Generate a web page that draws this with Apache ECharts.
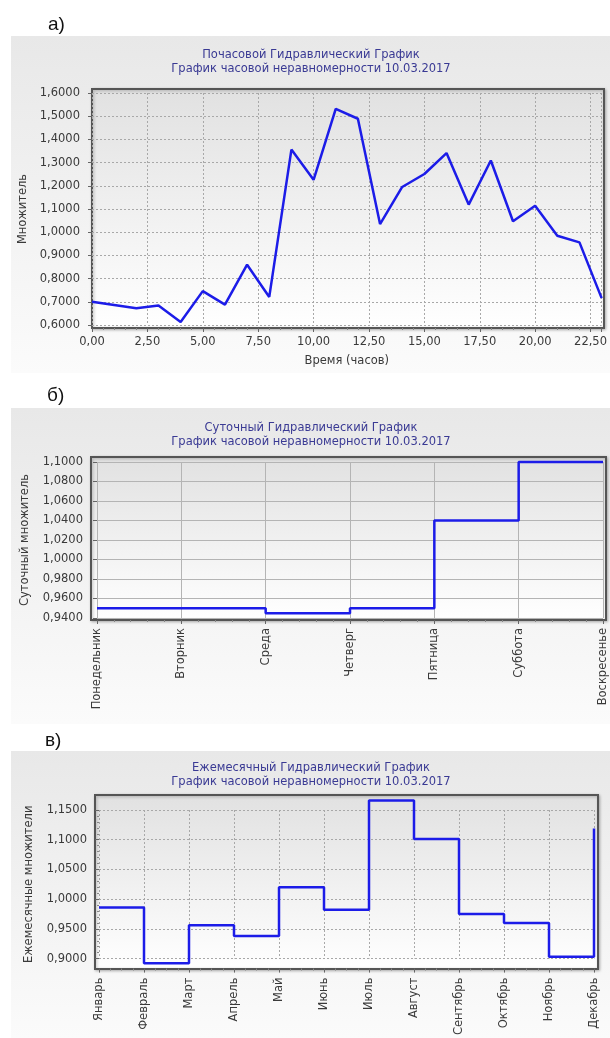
<!DOCTYPE html>
<html><head><meta charset="utf-8">
<script src="https://cdn.jsdelivr.net/npm/echarts@6/dist/echarts.min.js"></script>
<style>
html,body{margin:0;padding:0;background:#fff;width:610px;height:1038px;overflow:hidden}
.panel{position:absolute;left:11px;width:599px;background:linear-gradient(#e8e8e8,#fbfbfb)}
#c{position:absolute;left:0;top:0;width:610px;height:1038px;z-index:1}
</style></head>
<body>
<div class="panel" style="top:36px;height:337px"></div>
<div class="panel" style="top:408px;height:316px"></div>
<div class="panel" style="top:751px;height:287px"></div>
<div id="c"></div>
<script>
const hours = [0,1,2,3,4,5,6,7,8,9,10,11,12,13,14,15,16,17,18,19,20,21,22,23];
const hourly = [0.700,0.686,0.672,0.684,0.613,0.746,0.688,0.860,0.721,1.356,1.226,1.532,1.489,1.035,1.195,1.251,1.341,1.119,1.309,1.047,1.114,0.985,0.956,0.716];
const days = ['Понедельник','Вторник','Среда','Четверг','Пятница','Суббота','Воскресенье'];
const daily = [0.950,0.950,0.945,0.950,1.040,1.100,1.100];
const months = ['Январь','Февраль','Март','Апрель','Май','Июнь','Июль','Август','Сентябрь','Октябрь','Ноябрь','Декабрь'];
const monthly = [0.986,0.892,0.956,0.938,1.020,0.982,1.166,1.101,0.975,0.960,0.903,1.119];
const titles = [
  'Почасовой Гидравлический График\nГрафик часовой неравномерности 10.03.2017',
  'Суточный Гидравлический График\nГрафик часовой неравномерности 10.03.2017',
  'Ежемесячный Гидравлический График\nГрафик часовой неравномерности 10.03.2017'
];
const panelLabels = ['а)','б)','в)'];
const yNames = ['Множитель','Суточный множитель','Ежемесячные множители'];
const xName1 = 'Время (часов)';

const FONT = 'DejaVu Sans';
const LBL = {fontFamily: FONT, fontSize: 11.5, color: '#3a3a3a'};
const LINE = '#1c1ce8';
const dotted = {show: true, lineStyle: {color: '#a8a8a8', type: [2, 2], width: 1}};
const solidSplit = {show: true, lineStyle: {color: '#b4b4b4', width: 1}};
const plotBg = {type: 'linear', x: 0, y: 0, x2: 0, y2: 1, colorStops: [{offset: 0, color: '#e1e1e1'}, {offset: 1, color: '#ffffff'}]};

function frameGrid(l, t, w, h) {
  return {left: l, top: t, width: w, height: h, show: true, backgroundColor: plotBg, borderColor: '#555', borderWidth: 2, z: 0,
    shadowColor: 'rgba(0,0,0,0.25)', shadowBlur: 3, shadowOffsetX: 1, shadowOffsetY: 1};
}
function hiddenAxis(i) { return {type: 'value', gridIndex: i, show: false, min: 0, max: 1}; }
const comma = (v, d) => v.toFixed(d).replace('.', ',');
const titleStyle = {fontFamily: FONT, fontSize: 11.5, fontWeight: 'normal', color: '#3a3a94', lineHeight: 14};
const lblStyle = {fontFamily: '"Liberation Sans Narrow","Liberation Sans",sans-serif', fontSize: 19, fontWeight: 'normal', color: '#111'};

const option = {
  animation: false,
  backgroundColor: 'transparent',
  textStyle: {fontFamily: FONT},
  title: [
    {text: titles[0], left: 311, top: 48, textAlign: 'center', padding: 0, textStyle: titleStyle},
    {text: titles[1], left: 311, top: 421, textAlign: 'center', padding: 0, textStyle: titleStyle},
    {text: titles[2], left: 311, top: 761, textAlign: 'center', padding: 0, textStyle: titleStyle},
    {text: panelLabels[0], left: 48, top: 15, padding: 0, textStyle: lblStyle},
    {text: panelLabels[1], left: 47, top: 386, padding: 0, textStyle: lblStyle},
    {text: panelLabels[2], left: 45, top: 731, padding: 0, textStyle: lblStyle}
  ],
  grid: [
    frameGrid(92, 89, 512, 239),
    {left: 92, top: 93, width: 511, height: 232},
    frameGrid(91, 457, 515, 163),
    {left: 97, top: 462, width: 506, height: 156},
    frameGrid(95, 795, 503, 174),
    {left: 99, top: 810, width: 495, height: 149}
  ],
  xAxis: [
    hiddenAxis(0),
    {type: 'value', gridIndex: 1, min: 0, max: 23, interval: 2.5, offset: 3,
      axisLine: {show: false}, axisTick: {show: true, length: 4, lineStyle: {color: '#666'}},
      minorTick: {show: true, splitNumber: 5, length: 2, lineStyle: {color: '#888'}},
      splitLine: dotted,
      axisLabel: Object.assign({margin: 8, showMaxLabel: false, formatter: v => comma(v, 2)}, LBL),
      name: xName1, nameLocation: 'middle', nameGap: 27, nameTextStyle: {fontFamily: FONT, fontSize: 11.5, color: '#3a3a3a'}},
    hiddenAxis(2),
    {type: 'value', gridIndex: 3, min: 0, max: days.length - 1, interval: 1, offset: 2,
      axisLine: {show: false}, axisTick: {show: true, length: 4, lineStyle: {color: '#666'}},
      minorTick: {show: true, splitNumber: 5, length: 2, lineStyle: {color: '#888'}},
      splitLine: solidSplit,
      axisLabel: Object.assign({margin: 8, rotate: 90, formatter: v => days[Math.round(v)]}, LBL)},
    hiddenAxis(4),
    {type: 'value', gridIndex: 5, min: 0, max: months.length - 1, interval: 1, offset: 10,
      axisLine: {show: false}, axisTick: {show: true, length: 4, lineStyle: {color: '#666'}},
      minorTick: {show: true, splitNumber: 4, length: 2, lineStyle: {color: '#888'}},
      splitLine: dotted,
      axisLabel: Object.assign({margin: 9, rotate: 90, formatter: v => months[Math.round(v)]}, LBL)}
  ],
  yAxis: [
    hiddenAxis(0),
    {type: 'value', gridIndex: 1, min: 0.6, max: 1.6, interval: 0.1,
      axisLine: {show: false}, axisTick: {show: true, length: 4, lineStyle: {color: '#666'}},
      splitLine: dotted,
      axisLabel: Object.assign({margin: 12, formatter: v => comma(v, 4)}, LBL),
      name: yNames[0], nameLocation: 'middle', nameGap: 58, nameTextStyle: {fontFamily: FONT, fontSize: 11.5, color: '#3a3a3a'}},
    hiddenAxis(2),
    {type: 'value', gridIndex: 3, min: 0.94, max: 1.1, interval: 0.02, offset: 6,
      axisLine: {show: false}, axisTick: {show: true, length: 4, lineStyle: {color: '#666'}},
      splitLine: solidSplit,
      axisLabel: Object.assign({margin: 8, formatter: v => comma(v, 4)}, LBL),
      name: yNames[1], nameLocation: 'middle', nameGap: 60, nameTextStyle: {fontFamily: FONT, fontSize: 11.5, color: '#3a3a3a'}},
    hiddenAxis(4),
    {type: 'value', gridIndex: 5, min: 0.9, max: 1.15, interval: 0.05, offset: 4,
      axisLine: {show: false}, axisTick: {show: true, length: 4, lineStyle: {color: '#666'}},
      minorTick: {show: true, splitNumber: 5, length: 2, lineStyle: {color: '#888'}},
      splitLine: dotted,
      axisLabel: Object.assign({margin: 8, formatter: v => comma(v, 4)}, LBL),
      name: yNames[2], nameLocation: 'middle', nameGap: 60, nameTextStyle: {fontFamily: FONT, fontSize: 11.5, color: '#3a3a3a'}}
  ],
  series: [
    {type: 'line', xAxisIndex: 1, yAxisIndex: 1, data: hours.map((h, i) => [h, hourly[i]]), clip: false,
      symbol: 'none', lineStyle: {color: LINE, width: 2.5}, z: 5},
    {type: 'line', xAxisIndex: 3, yAxisIndex: 3, step: 'end', data: days.map((d, i) => [i, daily[i]]), clip: false,
      symbol: 'none', lineStyle: {color: LINE, width: 2.5}, z: 5},
    {type: 'line', xAxisIndex: 5, yAxisIndex: 5, step: 'end', data: months.map((m, i) => [i, monthly[i]]), clip: false,
      symbol: 'none', lineStyle: {color: LINE, width: 2.5}, z: 5}
  ]
};
const chart = echarts.init(document.getElementById('c'), null, {renderer: 'canvas'});
chart.setOption(option);
</script>
</body></html>
